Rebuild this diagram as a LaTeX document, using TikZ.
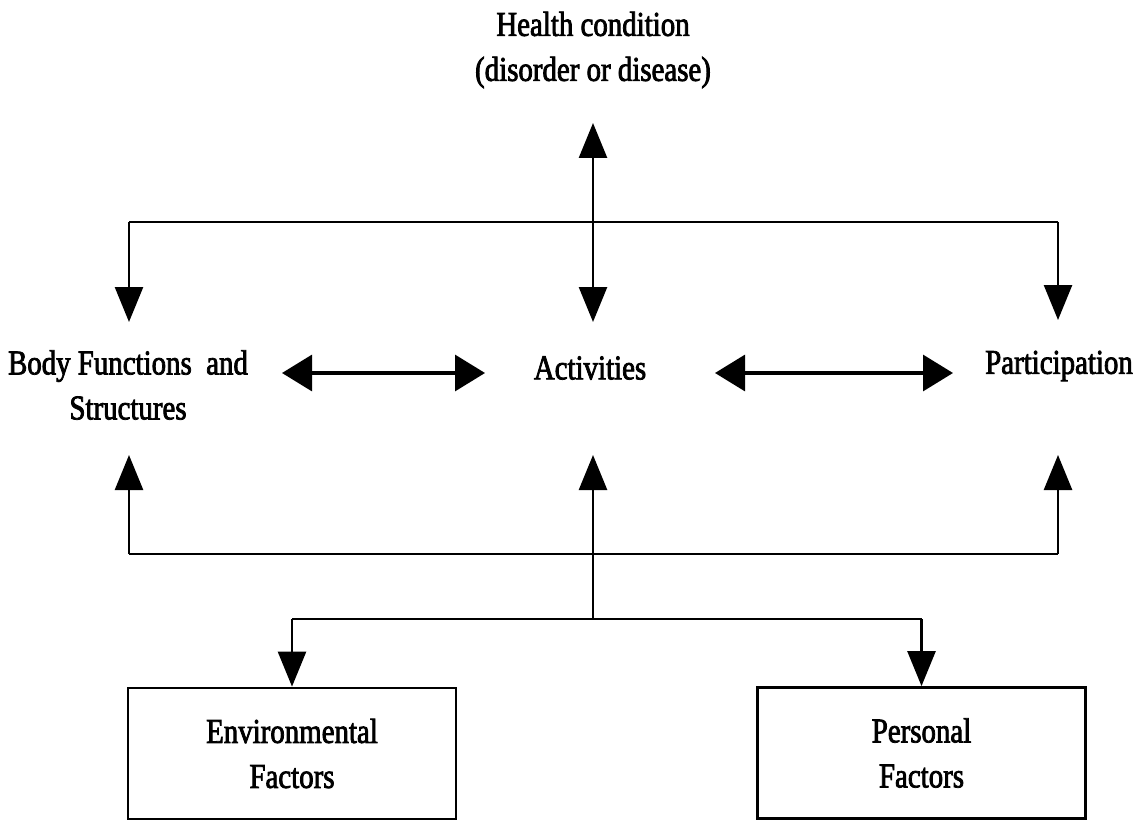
\documentclass[tikz,border=0pt]{standalone}
\usepackage{fontspec}
\setmainfont{Liberation Serif}[FakeStretch=0.83,FakeBold=2.2]
\usetikzlibrary{arrows.meta}
\begin{document}
\begin{tikzpicture}[x=0.5pt,y=-0.5pt,
  lbl/.style={align=center,font=\fontsize{17.4pt}{22.5pt}\selectfont,inner sep=0pt},
  fbox/.style={draw,line width=1.4pt,minimum width=164pt,minimum height=65.5pt,align=center,font=\fontsize{17.4pt}{22.5pt}\selectfont},
  wire/.style={line width=1.3pt},
  vtip/.style={-{Triangle[length=17.5pt,width=14pt]}},
  vboth/.style={{Triangle[length=17.5pt,width=14pt]}-{Triangle[length=17.5pt,width=14pt]}},
  hboth/.style={line width=1.6pt,{Triangle[length=15pt,width=18pt]}-{Triangle[length=15pt,width=18pt]}}]
\useasboundingbox (0,0) rectangle (1143,823);
% text nodes
\node[lbl] (health) at (593,50) {Health condition\\(disorder or disease)};
\node[lbl] (body) at (128,385) {Body Functions\ \ and\\Structures};
\node[lbl] (act) at (590,368) {Activities};
\node[lbl] (part) at (1059,366) {Participation};
\node[fbox] (env) at (292,753.5) {Environmental\\Factors};
\node[fbox] (pers) at (921.5,753) {Personal\\Factors};
% coordinates
\coordinate (hUp) at (593,123);
\coordinate (hDn) at (593,322);
\coordinate (tL) at (129,222);
\coordinate (tR) at (1058,222);
\coordinate (tLd) at (129,322);
\coordinate (tRd) at (1058,320);
\coordinate (bL) at (129,554);
\coordinate (bR) at (1058,554);
\coordinate (bLu) at (129,455);
\coordinate (bRu) at (1058,455);
\coordinate (bMu) at (593,455);
\coordinate (lM) at (593,619);
\coordinate (lL) at (292,619);
\coordinate (lR) at (921.5,619);
\coordinate (a1) at (282,373);
\coordinate (a2) at (485,373);
\coordinate (a3) at (715,373);
\coordinate (a4) at (953,373);
% top
\draw[wire,vboth] (hUp) -- (hDn);
\draw[wire] (tL) -- (tR);
\draw[wire,vtip] (tL) -- (tLd);
\draw[wire,vtip] (tR) -- (tRd);
% middle
\draw[hboth] (a1) -- (a2);
\draw[hboth] (a3) -- (a4);
% bottom bus
\draw[wire] (bL) -- (bR);
\draw[wire,vtip] (bL) -- (bLu);
\draw[wire,vtip] (bR) -- (bRu);
\draw[wire,vtip] (lM) -- (bMu);
\draw[wire] (lL) -- (lR);
\draw[wire,vtip] (lL) -- (env.north);
\draw[wire,vtip] (lR) -- (pers.north);
\end{tikzpicture}
\end{document}
